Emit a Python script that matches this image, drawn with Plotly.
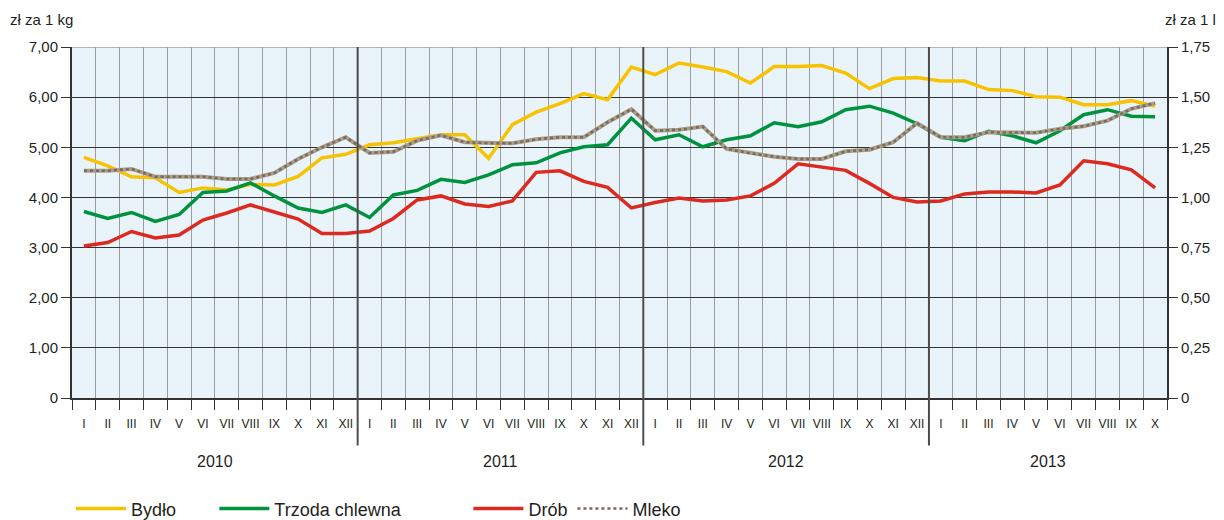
import plotly.graph_objects as go

# ---------------- data ----------------
months = ["I", "II", "III", "IV", "V", "VI", "VII", "VIII", "IX", "X", "XI", "XII"]
years = ["2010", "2011", "2012", "2013"]
months_per_year = [12, 12, 12, 10]

bydlo = [4.80, 4.63, 4.41, 4.39, 4.10, 4.19, 4.15, 4.26, 4.25, 4.42, 4.79, 4.86,
         5.05, 5.09, 5.17, 5.25, 5.25, 4.78, 5.45, 5.70, 5.87, 6.07, 5.95, 6.60,
         6.45, 6.68, 6.60, 6.51, 6.28, 6.61, 6.61, 6.63, 6.48, 6.17, 6.37, 6.39,
         6.32, 6.32, 6.15, 6.13, 6.01, 6.00, 5.85, 5.85, 5.93, 5.82]

trzoda = [3.72, 3.58, 3.70, 3.52, 3.66, 4.10, 4.13, 4.29, 4.03, 3.79, 3.70, 3.85,
          3.60, 4.05, 4.14, 4.36, 4.30, 4.45, 4.65, 4.69, 4.89, 5.01, 5.05, 5.58,
          5.15, 5.25, 5.01, 5.15, 5.23, 5.49, 5.41, 5.51, 5.75, 5.82, 5.68, 5.47,
          5.20, 5.13, 5.32, 5.23, 5.09, 5.33, 5.65, 5.75, 5.62, 5.61]

drob = [3.03, 3.10, 3.32, 3.19, 3.25, 3.55, 3.69, 3.85, 3.71, 3.57, 3.28, 3.28,
        3.33, 3.58, 3.95, 4.03, 3.87, 3.82, 3.93, 4.50, 4.53, 4.32, 4.20, 3.79,
        3.90, 3.99, 3.93, 3.95, 4.03, 4.28, 4.67, 4.61, 4.54, 4.28, 4.00, 3.91,
        3.93, 4.07, 4.11, 4.11, 4.09, 4.25, 4.73, 4.67, 4.55, 4.19]

mleko = [1.133, 1.133, 1.142, 1.103, 1.103, 1.103, 1.092, 1.092, 1.122, 1.192, 1.250, 1.300,
         1.222, 1.228, 1.283, 1.310, 1.275, 1.270, 1.270, 1.290, 1.300, 1.300, 1.375, 1.440,
         1.333, 1.337, 1.353, 1.242, 1.220, 1.203, 1.192, 1.192, 1.230, 1.238, 1.275, 1.370,
         1.300, 1.300, 1.325, 1.322, 1.322, 1.342, 1.355, 1.383, 1.442, 1.470]

left_ticks = [0, 1, 2, 3, 4, 5, 6, 7]
left_ticktext = ["0", "1,00", "2,00", "3,00", "4,00", "5,00", "6,00", "7,00"]
right_ticks = [0, 0.25, 0.5, 0.75, 1.0, 1.25, 1.5, 1.75]
right_ticktext = ["0", "0,25", "0,50", "0,75", "1,00", "1,25", "1,50", "1,75"]

# ---------------- derived positions ----------------
month_labels = []
for n in months_per_year:
    month_labels += months[:n]
n_total = len(month_labels)
x = [i + 0.5 for i in range(n_total)]
boundaries = list(range(n_total + 1))
year_starts = []
s = 0
for n in months_per_year:
    year_starts.append(s)
    s += n
year_centers = [st + n / 2 for st, n in zip(year_starts, months_per_year)]

FONT = "Liberation Sans, Arial, sans-serif"
TXT = "#231F20"

fig = go.Figure()

fig.add_trace(go.Scatter(x=x, y=bydlo, mode="lines", name="Bydło",
                         line=dict(color="#F7C200", width=3.5), legend="legend"))
fig.add_trace(go.Scatter(x=x, y=trzoda, mode="lines", name="Trzoda chlewna",
                         line=dict(color="#00923F", width=3.5), legend="legend2"))
fig.add_trace(go.Scatter(x=x, y=drob, mode="lines", name="Drób",
                         line=dict(color="#DC2A20", width=3.5), legend="legend3"))
fig.add_trace(go.Scatter(x=x, y=mleko, mode="lines", name="Mleko", yaxis="y2",
                         line=dict(color="#A99D8B", width=4), showlegend=False,
                         hoverinfo="skip"))
fig.add_trace(go.Scatter(x=x, y=mleko, mode="lines", name="Mleko", yaxis="y2",
                         line=dict(color="#7A6A58", width=2.5, dash="dot"),
                         legend="legend4"))

shapes = []
for st in year_starts[1:]:
    shapes.append(dict(type="line", xref="x", yref="paper", x0=st, x1=st,
                       y0=-0.135, y1=1, line=dict(color="#4D4D4D", width=2),
                       layer="above"))
shapes.append(dict(type="line", xref="paper", yref="y", x0=0, x1=1,
                   y0=left_ticks[-1], y1=left_ticks[-1],
                   line=dict(color="#B5B5B5", width=2), layer="below"))

annotations = []
for yr, c in zip(years, year_centers):
    annotations.append(dict(text=yr, x=c, xref="x", y=-0.18, yref="paper",
                            showarrow=False, font=dict(size=16, color=TXT, family=FONT),
                            xanchor="center", yanchor="middle"))
annotations.append(dict(text="zł za 1 kg", x=-0.058, xref="paper", y=1.077, yref="paper",
                        showarrow=False, xanchor="left", yanchor="middle",
                        font=dict(size=15, color=TXT, family=FONT)))
annotations.append(dict(text="zł za 1 l", x=1.0466, xref="paper", y=1.077, yref="paper",
                        showarrow=False, xanchor="right", yanchor="middle",
                        font=dict(size=15, color=TXT, family=FONT)))

leg_common = dict(orientation="h", yanchor="middle", y=-0.316, xanchor="left",
                  bgcolor="rgba(0,0,0,0)", font=dict(size=18, color=TXT, family=FONT),
                  itemwidth=50, borderwidth=0)

fig.update_layout(
    width=1224, height=520,
    margin=dict(l=72, r=57, t=47, b=122, autoexpand=False),
    paper_bgcolor="white",
    plot_bgcolor="#E8F4FA",
    font=dict(family=FONT, color=TXT, size=13),
    showlegend=True,
    legend=dict(x=-0.001, **leg_common),
    legend2=dict(x=0.130, **leg_common),
    legend3=dict(x=0.362, **leg_common),
    legend4=dict(x=0.457, **leg_common),
    xaxis=dict(
        range=[0, n_total],
        tickmode="array", tickvals=x, ticktext=month_labels,
        ticks="", showgrid=False, zeroline=False,
        tickfont=dict(size=12, color=TXT, family=FONT),
        ticklabelstandoff=14,
        showline=True, linecolor="#333333", linewidth=1.5,
        minor=dict(tickmode="array", tickvals=boundaries, ticks="outside",
                   ticklen=10, tickcolor="#333333", tickwidth=1.2,
                   showgrid=True, gridcolor="#9C9C9C", gridwidth=1),
    ),
    yaxis=dict(
        range=[0, 7], tickmode="array", tickvals=left_ticks, ticktext=left_ticktext,
        ticks="outside", ticklen=9, tickcolor="#333333", tickwidth=1.2,
        showgrid=True, gridcolor="#333333", gridwidth=1, zeroline=False,
        showline=True, linecolor="#333333", linewidth=2,
        tickfont=dict(size=15, color=TXT, family=FONT),
    ),
    yaxis2=dict(
        range=[0, 1.75], overlaying="y", side="right",
        tickmode="array", tickvals=right_ticks, ticktext=right_ticktext,
        ticks="outside", ticklen=9, tickcolor="#333333", tickwidth=1.2,
        showgrid=False, zeroline=False,
        showline=True, linecolor="#333333", linewidth=2,
        tickfont=dict(size=15, color=TXT, family=FONT),
    ),
    shapes=shapes,
    annotations=annotations,
)

fig.write_html("out.html", config={"displayModeBar": False},
               post_script="document.body.style.margin='0';document.body.style.overflow='hidden';")
